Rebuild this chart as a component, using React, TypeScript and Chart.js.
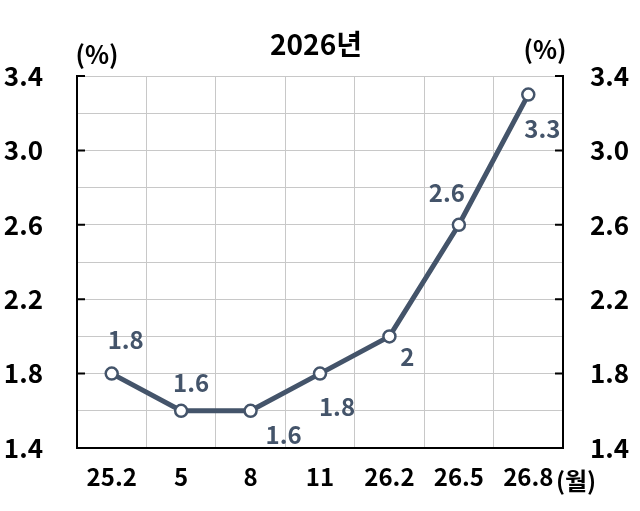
import React, { useEffect, useRef } from "react";
import { Chart, registerables } from "chart.js";

Chart.register(...registerables);

const categories = ["25.2", "5", "8", "11", "26.2", "26.5", "26.8"];
const values = [1.8, 1.6, 1.6, 1.8, 2.0, 2.6, 3.3];
const valueLabels = ["1.8", "1.6", "1.6", "1.8", "2", "2.6", "3.3"];
const yLabeledTicks = [1.4, 1.8, 2.2, 2.6, 3.0, 3.4];
const titleText = "2026년";
const unitLeft = "(%)";
const unitRight = "(%)";
const unitX = "(월)";

const LINE = "#44546a";
const FONT = "'Noto Sans CJK KR', 'Noto Sans', sans-serif";

// label offsets (dx, dy) relative to each point
const labelOffsets: [number, number][] = [
  [14, -34],
  [10, -28],
  [33, 24],
  [17, 33],
  [18, 20],
  [-12, -32],
  [14, 34],
];

const overlay = {
  id: "overlay",
  afterDatasetsDraw(chart: any) {
    const ctx = chart.ctx;
    const area = chart.chartArea;
    const y = chart.scales.y;
    ctx.save();
    ctx.strokeStyle = "#000";
    ctx.lineWidth = 2;
    yLabeledTicks.forEach((v) => {
      const py = y.getPixelForValue(v);
      ctx.beginPath();
      ctx.moveTo(area.left, py);
      ctx.lineTo(area.left + 8, py);
      ctx.moveTo(area.right, py);
      ctx.lineTo(area.right - 8, py);
      ctx.stroke();
    });
    const meta = chart.getDatasetMeta(0);
    ctx.fillStyle = LINE;
    ctx.font = `bold 24px ${FONT}`;
    ctx.textAlign = "center";
    ctx.textBaseline = "middle";
    meta.data.forEach((pt: any, i: number) => {
      const [dx, dy] = labelOffsets[i];
      ctx.fillText(valueLabels[i], pt.x + dx, pt.y + dy);
    });
    ctx.fillStyle = "#000";
    ctx.font = `bold 28px ${FONT}`;
    ctx.fillText(titleText, 316, 44);
    ctx.font = `bold 25px ${FONT}`;
    ctx.fillText(unitLeft, 97, 54);
    ctx.fillText(unitRight, 545, 49);
    ctx.font = `bold 24px ${FONT}`;
    ctx.fillText(unitX, 576, 481);
    ctx.restore();
  },
};

export default function App() {
  const ref = useRef<HTMLCanvasElement>(null);
  useEffect(() => {
    if (!ref.current) return;
    const tickCb = (v: any) => (yLabeledTicks.some((t) => Math.abs(t - v) < 1e-6) ? Number(v).toFixed(1) : "");
    const chart = new Chart(ref.current, {
      type: "line",
      data: {
        labels: categories,
        datasets: [
          {
            data: values,
            borderColor: LINE,
            borderWidth: 5,
            pointBackgroundColor: "#fff",
            pointBorderColor: LINE,
            pointBorderWidth: 2.5,
            pointRadius: 6,
            tension: 0,
          },
        ],
      },
      options: {
        animation: false,
        responsive: false,
        maintainAspectRatio: false,
        layout: { padding: { top: 76, left: 0, right: 0, bottom: 0 } },
        plugins: { legend: { display: false }, title: { display: false }, tooltip: { enabled: false } },
        scales: {
          x: {
            offset: true,
            grid: { offset: true, color: "#c8c8c8", lineWidth: 1, drawTicks: false },
            border: { display: true, color: "#000", width: 2 },
            ticks: { color: "#000", font: { family: FONT, size: 24, weight: "bold" }, padding: 14, maxRotation: 0 },
            afterFit: (s: any) => { s.height = 63; },
          },
          y: {
            position: "left",
            min: 1.4,
            max: 3.4,
            grid: { color: "#c8c8c8", lineWidth: 1, drawTicks: false },
            border: { display: true, color: "#000", width: 2 },
            ticks: { stepSize: 0.2, color: "#000", font: { family: FONT, size: 26, weight: "bold" }, padding: 34, callback: tickCb },
            afterFit: (s: any) => { s.width = 77; },
          },
          y2: {
            position: "right",
            min: 1.4,
            max: 3.4,
            grid: { display: false, drawTicks: false },
            border: { display: true, color: "#000", width: 2 },
            ticks: { stepSize: 0.2, color: "#000", font: { family: FONT, size: 26, weight: "bold" }, padding: 27, callback: tickCb },
            afterFit: (s: any) => { s.width = 77; },
          },
        },
      },
      plugins: [overlay],
    } as any);
    return () => chart.destroy();
  }, []);
  return (
    <div style={{ position: "fixed", left: 0, top: 0, width: 640, height: 511, background: "#fff" }}>
      <canvas ref={ref} width={640} height={511} style={{ width: 640, height: 511 }} />
    </div>
  );
}
